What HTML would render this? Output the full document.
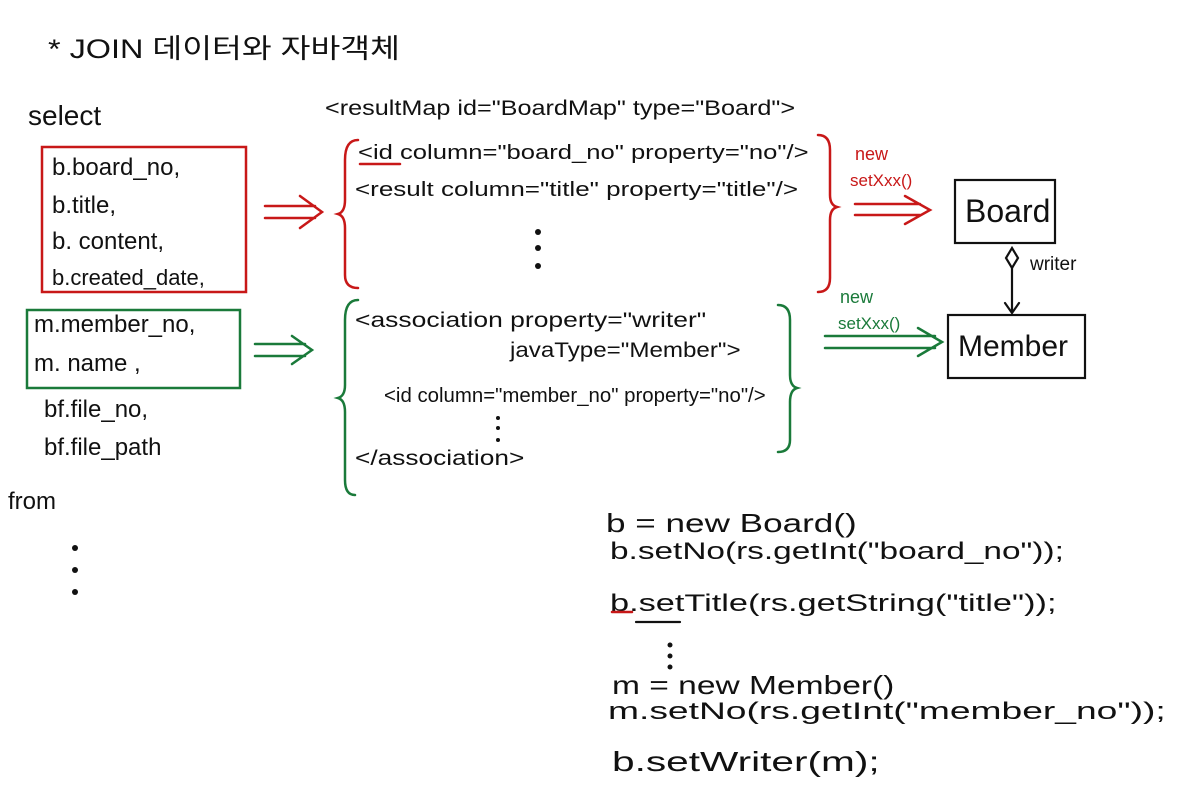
<!DOCTYPE html>
<html><head><meta charset="utf-8">
<style>
body{margin:0;width:1199px;height:792px;background:#fff;position:relative;overflow:hidden;font-family:"Liberation Sans","Noto Sans CJK KR",sans-serif;color:#111}
.t{position:absolute;white-space:nowrap;line-height:1;transform-origin:0 0}
.r{color:#c81818}.g{color:#1a7a3a}
</style></head><body>
<div class="t" style="left:48px;top:36px;font-size:27px;transform:scaleX(1.2)">* JOIN 데이터와 자바객체</div>
<div class="t" style="left:28px;top:102px;font-size:28px">select</div>
<div class="t" style="left:52px;top:156px;font-size:24px">b.board_no,</div>
<div class="t" style="left:52px;top:194px;font-size:24px">b.title,</div>
<div class="t" style="left:52px;top:230px;font-size:24px">b. content,</div>
<div class="t" style="left:52px;top:267px;font-size:22px">b.created_date,</div>
<div class="t" style="left:34px;top:313px;font-size:24px">m.member_no,</div>
<div class="t" style="left:34px;top:352px;font-size:24px">m. name ,</div>
<div class="t" style="left:44px;top:398px;font-size:24px">bf.file_no,</div>
<div class="t" style="left:44px;top:436px;font-size:24px">bf.file_path</div>
<div class="t" style="left:8px;top:490px;font-size:24px">from</div>

<div class="t" style="left:325px;top:98px;font-size:21px;transform:scaleX(1.2)">&lt;resultMap id="BoardMap" type="Board"&gt;</div>
<div class="t" style="left:358px;top:143px;font-size:20px;transform:scaleX(1.28)">&lt;id column="board_no" property="no"/&gt;</div>
<div class="t" style="left:355px;top:180px;font-size:20px;transform:scaleX(1.3)">&lt;result column="title" property="title"/&gt;</div>
<div class="t" style="left:355px;top:310px;font-size:21px;transform:scaleX(1.26)">&lt;association property="writer"</div>
<div class="t" style="left:510px;top:340px;font-size:21px;transform:scaleX(1.15)">javaType="Member"&gt;</div>
<div class="t" style="left:384px;top:386px;font-size:20px;transform:scaleX(1.02)">&lt;id column="member_no" property="no"/&gt;</div>
<div class="t" style="left:355px;top:448px;font-size:21px;transform:scaleX(1.25)">&lt;/association&gt;</div>

<div class="t r" style="left:855px;top:145px;font-size:18px">new</div>
<div class="t r" style="left:850px;top:172px;font-size:17px">setXxx()</div>
<div class="t g" style="left:840px;top:288px;font-size:18px">new</div>
<div class="t g" style="left:838px;top:315px;font-size:17px">setXxx()</div>
<div class="t" style="left:965px;top:195px;font-size:32px">Board</div>
<div class="t" style="left:958px;top:332px;font-size:30px">Member</div>
<div class="t" style="left:1030px;top:255px;font-size:19px">writer</div>

<div class="t" style="left:606px;top:510px;font-size:26px;transform:scaleX(1.35)">b  = new Board()</div>
<div class="t" style="left:610px;top:540px;font-size:24px;transform:scaleX(1.39)">b.setNo(rs.getInt("board_no"));</div>
<div class="t" style="left:610px;top:592px;font-size:24px;transform:scaleX(1.43)">b.setTitle(rs.getString("title"));</div>
<div class="t" style="left:612px;top:672px;font-size:26px;transform:scaleX(1.29)">m  = new Member()</div>
<div class="t" style="left:608px;top:700px;font-size:24px;transform:scaleX(1.55)">m.setNo(rs.getInt("member_no"));</div>
<div class="t" style="left:612px;top:748px;font-size:28px;transform:scaleX(1.45)">b.setWriter(m);</div>

<svg width="1199" height="792" style="position:absolute;left:0;top:0" fill="none" stroke-linecap="round">
<g stroke="#c81818" stroke-width="2.5">
<rect x="42" y="147" width="204" height="145"/>
<path d="M265 206H315M265 218H315M300 196L322 212L300 228"/>
<path d="M358 140Q345 140 345 160V200Q345 212 338 214Q345 216 345 228V275Q345 288 358 288"/>
<path d="M818 135Q830 135 830 150V195Q830 205 837 207Q830 209 830 220V278Q830 292 818 292"/>
<path d="M855 204H920M855 215H920M905 196L930 210L905 224"/>
<path d="M360 164H400M612 612H632"/>
</g>
<g stroke="#1a7a3a" stroke-width="2.5">
<rect x="27" y="310" width="213" height="78"/>
<path d="M255 344H305M255 356H305M292 336L312 350L292 364"/>
<path d="M358 300Q345 300 345 320V385Q345 396 338 398Q345 400 345 412V480Q345 495 355 495"/>
<path d="M778 305Q790 305 790 320V375Q790 386 797 388Q790 390 790 402V440Q790 452 778 452"/>
<path d="M825 336H935M825 348H935M918 328L942 342L918 356"/>
</g>
<g stroke="#111" stroke-width="2.2">
<rect x="955" y="180" width="100" height="63"/>
<rect x="948" y="315" width="137" height="63"/>
<path d="M1012 248L1018 258L1012 268L1006 258Z"/>
<path d="M1012 268V313M1005 303L1012 313L1019 303"/>
<path d="M636 622H680"/>
</g>
<g fill="#111">
<circle cx="538" cy="232" r="3"/><circle cx="538" cy="248" r="3"/><circle cx="538" cy="266" r="3"/>
<circle cx="498" cy="418" r="2"/><circle cx="498" cy="428" r="2"/><circle cx="498" cy="440" r="2"/>
<circle cx="75" cy="548" r="3"/><circle cx="75" cy="570" r="3"/><circle cx="75" cy="592" r="3"/>
<circle cx="670" cy="645" r="2.5"/><circle cx="670" cy="656" r="2.5"/><circle cx="670" cy="667" r="2.5"/>
</g>
</svg>
</body></html>
